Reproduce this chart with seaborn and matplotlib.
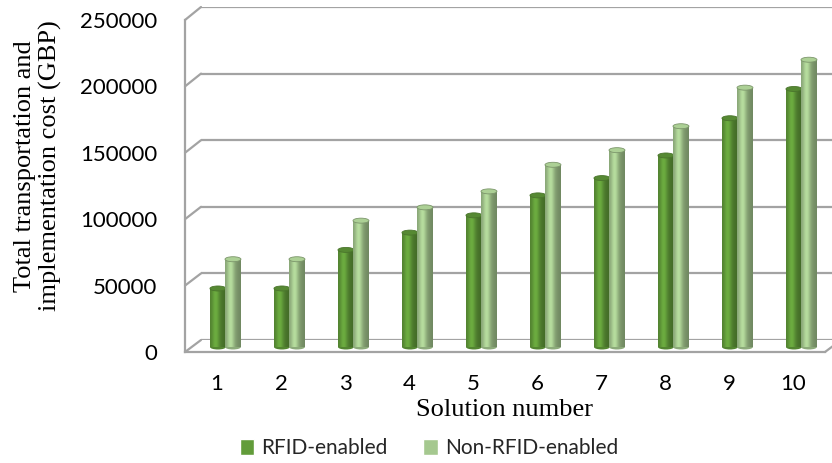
import numpy as np
import pandas as pd
import matplotlib
matplotlib.use("Agg")
import matplotlib.pyplot as plt
import seaborn as sns
from matplotlib.lines import Line2D
from matplotlib.patches import Ellipse
from matplotlib.colors import to_rgb

# ---- data -------------------------------------------------------------
solutions = ["1", "2", "3", "4", "5", "6", "7", "8", "9", "10"]
rfid_cost = [44000, 44000, 73000, 86000, 99000, 114000, 127000, 144000, 172000, 194000]
non_rfid_cost = [66000, 66000, 95000, 105000, 117000, 137000, 148000, 166000, 195000, 216000]
series_names = ["RFID-enabled", "Non-RFID-enabled"]
y_ticks = [0, 50000, 100000, 150000, 200000, 250000]
y_label = "Total transportation and\nimplementation cost (GBP)"
x_label = "Solution number"

colors = ["#629c3a", "#a5c88f"]

df = pd.DataFrame({
    "Solution": solutions * 2,
    "Cost": rfid_cost + non_rfid_cost,
    "Type": [series_names[0]] * len(solutions) + [series_names[1]] * len(solutions),
})

# ---- figure & three depth planes ---------------------------------------
sns.set_theme(style="white")
plt.rcParams["font.family"] = ["Lato", "DejaVu Sans"]
W, H = 832, 463
fig = plt.figure(figsize=(W / 100, H / 100), dpi=100)
fig.patch.set_facecolor("white")


def plane(left_px, zero_px, top_px):
    return fig.add_axes([left_px / W, (H - zero_px) / H, 640 / W, (zero_px - top_px) / H])


back = plane(201, 340, 7)       # back wall (grid)
ax = plane(193, 347, 14.5)      # plane the cylinders stand on
front = plane(185, 352, 20)     # front edge (axes, tick labels)

xlim = (-0.5, len(solutions) - 0.5)
ylim = (0, 250000)
grid_col = "#a3a3a3"

for a in (back, ax, front):
    a.set_xlim(*xlim)
    a.set_ylim(*ylim)
    a.set_facecolor("none")
back.set_zorder(0)
ax.set_zorder(1)
front.set_zorder(2)

# back wall gridlines
back.set_yticks(y_ticks)
back.set_xticks([])
back.grid(axis="y", color=grid_col, lw=1.6)
back.tick_params(left=False, labelleft=False)
for s in back.spines.values():
    s.set_visible(False)

# ---- cylinders ---------------------------------------------------------
sns.barplot(data=df, x="Solution", y="Cost", hue="Type", palette=colors,
            width=0.47, ax=ax, saturation=1, legend=True)
ax.set_xlim(*xlim)
ax.set_ylim(*ylim)
ax.axis("off")

px_per_unit = 332.5 / 250000
cap_h = 5 / px_per_unit


def shade(rgb, t):
    # horizontal light profile of a cylinder: highlight left of centre, dark rims
    f = 0.80 + 0.32 * np.exp(-((t - 0.36) / 0.24) ** 2) - 0.12 * t ** 2
    return np.clip(np.outer(f, rgb), 0, 1)


t = np.linspace(0, 1, 64)
n = len(solutions)
for i, p in enumerate(list(ax.patches)):
    h = p.get_height()
    if h <= 0:
        continue
    grp = i // n
    z = 2 + grp
    rgb = np.array(to_rgb(colors[grp]))
    x0, w = p.get_x(), p.get_width()
    w *= 1.06
    p.set_width(w)
    p.set_zorder(z)
    p.set_edgecolor("none")
    grad = shade(rgb, t)[None, :, :]
    im = ax.imshow(grad, extent=[x0, x0 + w, 0, h], aspect="auto",
                   interpolation="bilinear", zorder=z + 0.1)
    im.set_clip_path(p)
    # rounded base
    ax.add_patch(Ellipse((x0 + w / 2, 0), w, cap_h, facecolor=rgb * 0.85,
                         edgecolor="none", zorder=z - 0.05, clip_on=False))
    # top cap
    cap_face = rgb * 0.88 if grp == 0 else np.clip(rgb * 1.04, 0, 1)
    ax.add_patch(Ellipse((x0 + w / 2, h), w, cap_h, facecolor=cap_face,
                         edgecolor=rgb * 0.75, lw=0.6, zorder=z + 0.2, clip_on=False))
ax.set_xlim(*xlim)
ax.set_ylim(*ylim)

# ---- front plane: axes lines, tick labels, titles -----------------------
tick_font = 16
front.set_yticks(y_ticks)
front.set_yticklabels([str(v) for v in y_ticks], fontsize=tick_font, color="#000000")
front.set_xticks(range(n))
front.set_xticklabels(solutions, fontsize=tick_font, color="#000000")
front.tick_params(axis="y", length=0, pad=20)
front.tick_params(axis="x", length=0, pad=16)
for side in ("top", "right"):
    front.spines[side].set_visible(False)
for side in ("left", "bottom"):
    front.spines[side].set_color(grid_col)
    front.spines[side].set_linewidth(1.6)

front.set_xlabel(x_label, fontsize=19, family=["Liberation Serif"], color="#000000")
front.xaxis.set_label_coords((504 - 185) / 640, (352 - 410) / 332)
front.xaxis.label.set_va("center")
front.set_ylabel(y_label, fontsize=19, family=["Liberation Serif"], color="#000000",
                 linespacing=1.15)
front.yaxis.set_label_coords((38 - 185) / 640, (352 - 166) / 332)
front.yaxis.label.set_va("center")

# side wall / floor edges joining front and back planes
to_fig = fig.transFigure.inverted()
edges = [(xlim[0], v) for v in y_ticks] + [(xlim[1], 0)]
for xv, yv in edges:
    p1 = to_fig.transform(front.transData.transform((xv, yv)))
    p2 = to_fig.transform(back.transData.transform((xv, yv)))
    fig.add_artist(Line2D([p1[0], p2[0]], [p1[1], p2[1]], color=grid_col, lw=1.6,
                          transform=fig.transFigure, zorder=0.5))

# ---- legend ------------------------------------------------------------
sns.move_legend(ax, "center", bbox_to_anchor=(429 / W, 1 - 448 / H),
                bbox_transform=fig.transFigure, ncol=2, frameon=False, title=None,
                fontsize=15, handlelength=0.7, handleheight=0.8,
                handletextpad=0.35, columnspacing=1.7)

fig.savefig("out.png", dpi=100)
